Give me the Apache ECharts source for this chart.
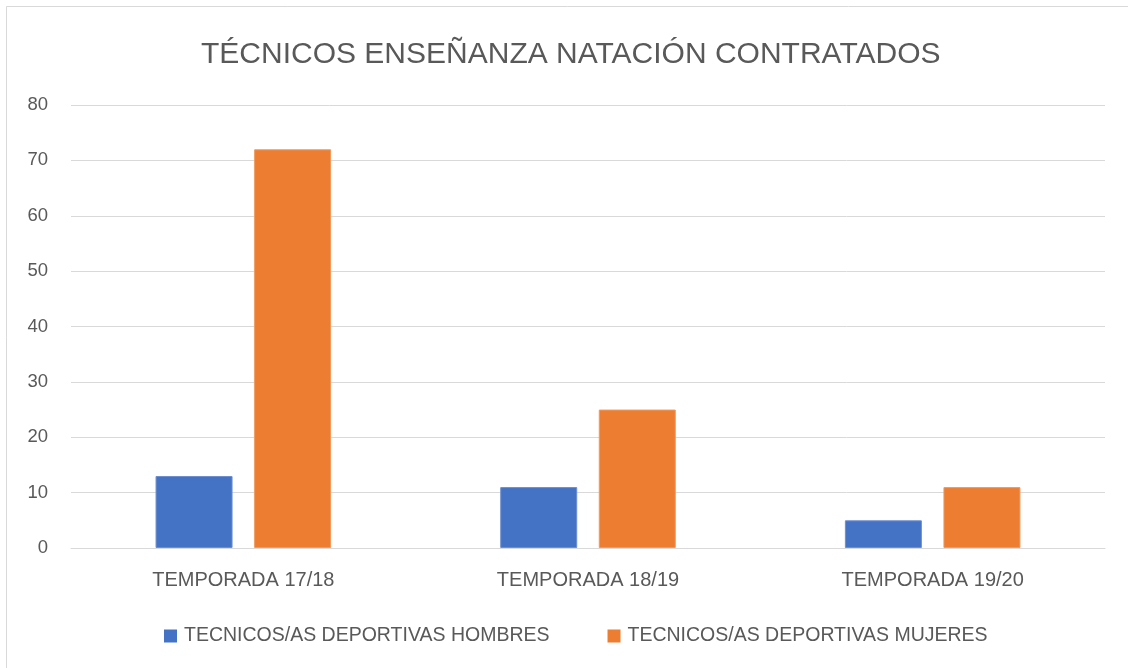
<!DOCTYPE html>
<html>
<head>
<meta charset="utf-8">
<script src="https://cdn.jsdelivr.net/npm/echarts@6/dist/echarts.min.js"></script>
<style>
html,body{margin:0;padding:0;background:#fff;}
#chart{width:1128px;height:668px;}
</style>
</head>
<body>
<div id="chart"></div>
<script>
var titleText = 'TÉCNICOS ENSEÑANZA NATACIÓN CONTRATADOS';
var categories = ['TEMPORADA 17/18', 'TEMPORADA 18/19', 'TEMPORADA 19/20'];
var seriesNames = ['TECNICOS/AS DEPORTIVAS HOMBRES', 'TECNICOS/AS DEPORTIVAS MUJERES'];
var hombres = [13, 11, 5];
var mujeres = [72, 25, 11];
var yTicks = [0, 10, 20, 30, 40, 50, 60, 70, 80];

var FONT = "'Liberation Sans', Arial, sans-serif";
var TXT = '#595959';
var chart = echarts.init(document.getElementById('chart'), null, {renderer: 'canvas'});
chart.setOption({
  backgroundColor: '#ffffff',
  animation: false,
  graphic: [{
    type: 'rect',
    shape: {x: 6.5, y: 6.5, width: 1300, height: 1000},
    style: {fill: 'none', stroke: '#d9d9d9', lineWidth: 1},
    silent: true
  }],
  title: {
    text: titleText,
    left: 196,
    top: 35,
    textStyle: {fontFamily: FONT, fontSize: 30, fontWeight: 'normal', color: TXT}
  },
  legend: {
    data: seriesNames,
    left: 164,
    top: 626,
    padding: 0,
    itemWidth: 13,
    itemHeight: 13,
    itemGap: 58,
    icon: 'rect',
    itemStyle: {borderWidth: 0},
    textStyle: {fontFamily: FONT, fontSize: 19.5, color: TXT, padding: [0, 0, 0, 2]}
  },
  grid: {left: 71, right: 23, top: 105, bottom: 120, containLabel: false},
  xAxis: {
    type: 'category',
    data: categories,
    axisLine: {show: true, lineStyle: {color: '#d9d9d9', width: 1}},
    axisTick: {show: false},
    axisLabel: {fontFamily: FONT, fontSize: 20, color: TXT, margin: 22}
  },
  yAxis: {
    type: 'value',
    min: yTicks[0],
    max: yTicks[yTicks.length - 1],
    interval: 10,
    axisLine: {show: false},
    axisTick: {show: false},
    splitLine: {lineStyle: {color: '#d9d9d9', width: 1}},
    axisLabel: {fontFamily: FONT, fontSize: 18.5, color: TXT, margin: 23}
  },
  series: [
    {
      name: seriesNames[0],
      type: 'bar',
      data: hombres,
      barWidth: 77,
      barGap: '28%',
      itemStyle: {color: '#4472C4', borderColor: '#6d8fd0', borderWidth: 1}
    },
    {
      name: seriesNames[1],
      type: 'bar',
      data: mujeres,
      barWidth: 77,
      barGap: '28%',
      itemStyle: {color: '#ED7D31', borderColor: '#f09a5e', borderWidth: 1}
    }
  ]
});
</script>
</body>
</html>
